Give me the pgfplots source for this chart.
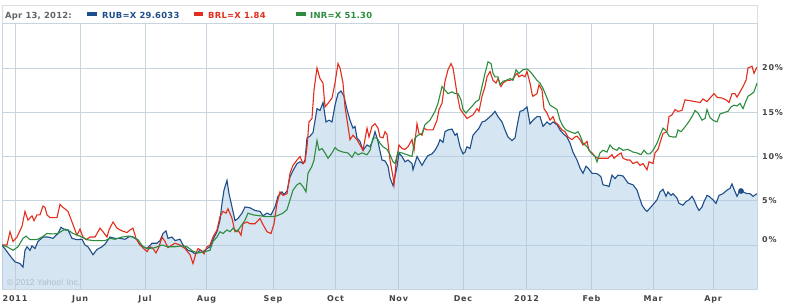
\documentclass[border=0pt]{standalone}
\usepackage{fontspec}
\usepackage{pgfplots}
\pgfplotsset{compat=1.18}
\usepackage{pgfplotstable}
\usepgfplotslibrary{fillbetween}
\newfontfamily\tickfont[LetterSpace=10]{DejaVu Sans}
\newfontfamily\legfont[LetterSpace=3]{DejaVu Sans}
\newfontfamily\copyfont{Liberation Sans}
\definecolor{gridc}{RGB}{200,213,223}
\definecolor{legc}{RGB}{221,221,221}
\definecolor{rubfill}{RGB}{171,203,227}
\definecolor{bluec}{RGB}{30,78,138}
\definecolor{redc}{RGB}{226,45,27}
\definecolor{greenc}{RGB}{45,140,62}
\definecolor{labc}{RGB}{68,68,68}
\definecolor{datec}{RGB}{100,100,100}
\definecolor{copyc}{RGB}{176,190,201}

\pgfplotstableread{
x y
2 0
7 -0.75
12 -1.5
15 -1.9
20 -2.1
23 -2.5
25 -0.6
27 -0.2
30 -0.6
32 -0.1
35 -0.4
38 0.4
43 0.9
48 0.9
53 0.75
58 1.3
61 2.0
65 1.7
68 1.7
72 0.75
77 0.6
82 0.65
85 0
88 -0.2
93 -1.1
97 -0.5
102 -0.2
105 0.1
110 0.9
115 0.75
120 0.75
125 0.65
130 1.0
133 0.9
137 0.6
140 0
147 -0.4
152 0.2
157 0.2
160 0.5
163 1.3
166 1.6
168 0.75
172 0.9
175 0.5
180 0.65
183 0
188 -0.6
192 -0.75
195 -1.0
197 -0.9
200 -0.6
203 -0.75
207 -0.4
210 -0.2
213 0.6
217 1.5
220 2.8
222 4.7
224 6.2
227 7.3
229 5.8
232 4.3
235 2.75
238 3.0
242 3.6
245 4.3
250 4.2
255 3.9
260 3.8
263 3.3
267 3.6
271 3.4
275 4.3
278 5.5
282 6.0
284 5.7
287 6.1
290 7.7
293 8.4
297 9.2
300 9.4
303 9.2
305 9.6
307 12.1
310 12.3
313 12.7
317 15.4
320 15.2
323 16.1
326 13.9
329 14.1
332 13.9
335 15.8
338 17.1
341 17.4
344 16.8
347 15.3
350 14.1
353 13.2
355 13.4
357 12.1
360 11.7
363 10.7
367 11.3
370 11.1
373 11.9
375 12.8
378 11.7
380 10.6
382 9.6
385 9.5
388 8.9
390 7.6
393 6.7
397 8.85
399 10.4
402 10.0
405 9.4
408 9.6
412 9.2
413 8.5
417 10.0
419 9.6
422 9.0
425 9.6
428 10.1
432 10.3
435 10.7
438 11.3
440 11.9
443 11.6
445 12.8
448 13.0
452 13.1
455 12.4
457 12.6
460 11.1
463 10.3
465 10.5
467 11.1
470 10.9
473 12.4
476 12.8
479 13.2
482 13.9
485 14.0
488 14.3
492 14.7
495 15.1
498 14.5
502 13.9
505 13.0
508 12.2
512 11.8
515 12.1
517 13.4
520 15.1
523 15.2
527 15.6
530 13.7
533 14.1
537 14.5
540 14.5
543 13.4
547 13.9
550 13.6
553 13.9
557 13.6
560 13.0
563 12.6
567 12.2
570 11.5
573 10.5
577 9.6
580 8.7
583 8.1
586 8.9
588 8.7
592 8.1
595 8.1
598 8.0
601 7.7
603 6.8
607 6.7
609 6.6
612 7.9
615 7.5
618 7.9
623 7.8
628 7.0
633 6.8
637 6.2
639 5.5
642 4.5
645 4.0
647 3.8
651 4.3
654 4.7
657 5.1
660 6.0
663 6.3
666 5.5
668 6.0
671 5.6
673 5.8
677 5.3
679 4.7
683 4.5
686 4.9
689 5.1
692 5.5
694 5.1
697 4.3
699 3.9
702 4.3
704 4.9
707 5.6
709 5.5
713 5.1
716 4.7
719 5.6
723 5.8
727 6.2
730 6.4
732 6.9
734 6.3
737 5.5
740 6.2
743 6.0
747 5.8
750 5.8
753 5.5
757 5.8
}\rub

\pgfplotstableread{
x y
2 0
7 0
10 1.5
13 0.4
17 0.9
22 2.1
25 3.8
28 2.8
32 3.3
34 2.75
37 3.4
40 3.4
43 4.4
45 4.25
47 3.4
50 3.1
57 3.1
60 4.6
63 4.25
68 3.8
72 2.6
75 1.7
77 1.1
80 1.8
83 0.9
86 0.6
90 0.9
95 0.9
100 1.9
103 1.5
107 0.9
109 1.7
113 2.6
117 1.9
122 1.6
127 1.4
130 1.7
133 1.9
136 0.75
140 0
147 -0.75
150 -0.2
153 -0.4
156 -0.9
159 -0.2
162 0.9
165 0.4
168 -0.3
172 0
175 0.2
180 0
185 -0.4
190 -1.1
193 -2.1
196 -0.9
198 -0.4
201 -0.6
204 -1.0
207 -0.2
210 0
213 0.9
217 1.7
220 3.2
223 3.8
226 3.6
228 4.1
232 3.0
235 1.5
238 1.7
241 1.1
243 2.4
247 2.6
250 2.4
255 2.4
260 3.0
263 2.3
267 1.5
271 1.3
274 2.4
277 4.7
280 6.0
283 5.6
287 5.8
290 8.1
293 9.0
297 9.6
300 10.0
303 9.2
305 9.4
307 11.1
309 13.9
312 14.3
314 17.5
317 20.0
320 18.8
323 18.3
325 15.6
328 16.0
332 16.6
335 18.3
338 20.5
340 20.0
343 18.3
345 15.6
348 13.4
350 11.9
353 12.4
357 11.9
360 11.3
363 10.7
367 13.2
369 12.2
372 13.4
375 13.7
378 13.2
380 12.2
383 12.1
385 12.8
387 12.5
390 9.6
393 7.7
394 6.8
396 9.2
399 11.3
402 10.9
405 10.8
408 11.1
412 11.9
414 10.7
417 13.7
419 12.6
422 12.4
424 13.2
427 13.0
433 13.0
437 14.1
439 15.3
442 16.0
445 18.5
448 19.8
451 20.5
453 20.0
455 18.6
457 17.1
460 15.4
463 14.9
467 14.3
470 14.5
473 14.7
477 15.4
479 15.1
482 16.8
485 17.9
487 19.0
490 19.6
493 18.6
496 18.3
498 18.8
501 17.9
503 18.3
507 18.6
510 18.6
513 18.8
517 19.4
519 19.0
522 19.2
525 19.0
527 19.6
530 18.3
532 17.1
533 16.8
537 17.1
539 18.1
542 17.5
544 15.4
547 14.9
550 14.1
553 14.5
555 13.9
558 13.6
562 13.0
565 12.8
568 12.2
572 11.9
575 12.2
577 12.3
580 11.9
583 11.3
587 11.7
589 10.7
592 10.4
595 10.0
598 9.8
603 9.8
608 9.8
612 10.2
614 9.8
617 10.1
621 10.4
623 9.8
627 9.6
630 9.6
633 9.2
637 9.4
640 9.0
643 9.2
647 8.5
649 9.4
653 9.2
655 10.4
658 10.8
661 11.9
663 12.6
667 12.8
669 14.5
672 14.7
675 15.3
678 15.1
682 15.2
685 16.4
690 16.3
695 16.2
700 16.1
703 16.5
707 16.2
710 16.6
714 17.1
717 16.7
722 16.6
726 16.4
729 16.1
732 17.1
735 17.1
737 16.7
740 17.3
743 17.9
746 18.6
748 20.0
752 20.2
754 19.4
757 20.1
}\brl

\pgfplotstableread{
x y
2 0
7 -0.2
13 -0.6
18 -0.2
23 0.75
26 1.0
30 0.6
37 0.6
42 0.9
47 1.3
53 1.25
58 1.3
65 1.8
68 1.7
73 1.3
80 1.0
87 0.6
93 0.5
100 0.5
105 0.5
110 0.75
115 0.65
122 0.9
128 1.0
133 0.9
138 0.6
143 -0.2
148 -0.4
155 -0.3
162 0
168 -0.2
175 -0.2
182 -0.1
187 -0.2
193 -0.7
198 -0.9
203 -0.8
210 -0.6
213 0.4
217 0.9
220 1.5
223 1.3
227 1.7
230 1.5
233 1.9
237 1.5
242 2.3
245 2.8
248 3.6
253 3.4
260 3.3
267 3.2
272 3.2
277 3.3
283 3.6
287 4.0
290 5.1
293 6.2
297 6.8
300 7.0
303 6.6
306 6.0
308 8.1
312 8.9
314 9.6
317 11.8
319 10.7
322 10.9
325 10.4
328 9.8
332 10.4
335 11.0
338 10.7
343 10.5
348 10.4
352 9.9
355 10.5
358 10.2
362 10.4
367 10.2
370 10.7
373 12.1
377 12.1
380 11.5
383 11.1
387 10.8
390 10.2
393 9.4
395 9.2
398 10.5
402 10.4
407 10.2
412 10.0
415 12.1
418 12.4
422 12.6
425 13.6
430 14.1
435 15.1
438 16.0
442 17.9
445 17.5
448 17.1
452 17.3
455 17.1
458 17.1
461 16.4
463 15.3
466 14.9
469 15.3
473 15.8
476 16.2
479 16.4
482 17.9
485 19.4
488 20.7
491 20.5
493 19.4
495 19.0
498 19.0
500 18.1
503 18.5
506 18.6
510 18.8
513 18.6
516 19.8
519 19.4
523 19.8
527 19.9
530 19.6
533 19.2
537 18.6
540 18.3
543 17.7
547 16.6
550 15.8
553 15.6
557 15.3
560 14.1
563 13.4
566 13.0
570 12.8
575 12.6
578 12.8
580 12.4
583 11.5
587 11.1
591 10.4
595 10.0
597 9.4
600 10.4
603 10.7
607 10.5
610 11.3
613 10.9
617 10.7
619 11.0
623 10.7
628 10.8
633 10.5
637 10.4
641 10.2
644 10.7
647 10.3
650 10.3
653 10.7
657 11.5
660 12.4
663 13.2
666 12.9
669 12.3
673 12.2
676 12.2
678 13.0
681 12.8
684 13.2
688 13.8
692 14.5
695 15.2
698 14.9
702 14.1
705 14.3
707 15.3
710 14.4
713 14.1
717 13.9
720 14.8
725 15.0
728 15.1
731 15.6
734 15.8
737 15.7
740 16.0
743 15.4
745 16.0
748 16.8
752 17.1
754 17.3
757 18.3
}\inr

\begin{document}
\begin{tikzpicture}
\path (0,0) rectangle (792bp,305bp);
\begin{axis}[
  at={(2bp,16bp)}, anchor=south west,
  scale only axis, width=755bp, height=266bp,
  xmin=2, xmax=757, ymin=-4.97, ymax=25.08,
  axis line style={draw=gridc, line width=0.8bp},
  tick style={draw=none}, major tick length=0pt,
  xtick={15,80,145,206.5,273,335.5,398.5,463,526.5,591.5,653,713},
  xticklabels={2011,Jun,Jul,Aug,Sep,Oct,Nov,Dec,2012,Feb,Mar,Apr},
  xmajorgrids=true,
  grid style={draw=gridc, line width=0.8bp},
  xticklabel style={font=\tickfont\bfseries\fontsize{8bp}{9bp}\selectfont, text=labc, anchor=north, inner sep=0pt, yshift=-6.5bp},
  ytick={0.6,5,10,15,20},
  yticklabels={0\%,5\%,10\%,15\%,20\%},
  yticklabel pos=right,
  yticklabel style={font=\tickfont\bfseries\fontsize{8bp}{9bp}\selectfont, text=labc, anchor=west, inner sep=0pt, xshift=5bp},
  extra y ticks={0,5,10,15,20},
  extra y tick labels={},
  extra y tick style={grid=major},
]
\addplot[draw=none, name path=rubline, forget plot] table {\rub};
\addplot[draw=none, name path=bottomline, forget plot] coordinates {(2,-4.97) (757,-4.97)};
\addplot[fill=rubfill, fill opacity=0.5, draw=none] fill between[of=rubline and bottomline];
\addplot[bluec, line width=1.1bp] table {\rub};
\addplot[redc, line width=1.1bp] table {\brl};
\addplot[greenc, line width=1.1bp] table {\inr};
\addplot[only marks, mark=*, mark size=2.6bp, bluec] coordinates {(741,6.1)};
\end{axis}
\draw[legc, line width=0.8bp] (2bp,282bp) -- (2bp,300bp) -- (757bp,300bp) -- (757bp,282bp);
\node[anchor=base west, inner sep=0pt, text=datec] at (5bp,286.7bp) {\legfont\bfseries\fontsize{8.4bp}{10bp}\selectfont Apr 13, 2012:};
\fill[bluec] (87bp,289.3bp) rectangle (97bp,292.7bp);
\node[anchor=base west, inner sep=0pt, text=bluec] at (102bp,286.7bp) {\legfont\bfseries\fontsize{8.4bp}{10bp}\selectfont RUB=X 29.6033};
\fill[redc] (194bp,289.3bp) rectangle (203bp,292.7bp);
\node[anchor=base west, inner sep=0pt, text=redc] at (208bp,286.7bp) {\legfont\bfseries\fontsize{8.4bp}{10bp}\selectfont BRL=X 1.84};
\fill[greenc] (296bp,289.3bp) rectangle (306bp,292.7bp);
\node[anchor=base west, inner sep=0pt, text=greenc] at (310bp,286.7bp) {\legfont\bfseries\fontsize{8.4bp}{10bp}\selectfont INR=X 51.30};
\node[anchor=west, inner sep=0pt, text=copyc] at (7bp,23bp) {\copyfont\fontsize{8.5bp}{10bp}\selectfont © 2012 Yahoo! Inc.};
\end{tikzpicture}
\end{document}
